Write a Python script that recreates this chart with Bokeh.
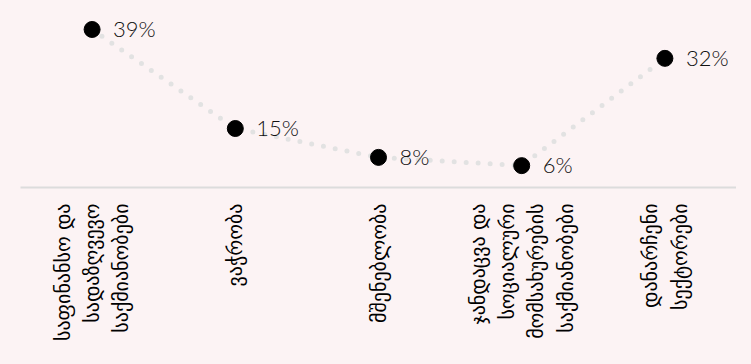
from bokeh.plotting import figure
from bokeh.models import ColumnDataSource, FactorRange, Range1d, LabelSet
from bokeh.embed import file_html
from bokeh.resources import INLINE
from bokeh.core.properties import value
import math

categories = [
    "საფინანსო და\nსადაზღვევო\nსაქმიანობები",
    "ვაჭრობა",
    "მშენებლობა",
    "ჯანდაცვა და\nსოციალური\nმომსახურების\nსაქმიანობები",
    "დანარჩენი\nსექტორები",
]
values = [39, 15, 8, 6, 32]
value_labels = ["39%", "15%", "8%", "6%", "32%"]

BG = "#fcf3f4"

src = ColumnDataSource(dict(x=categories, y=values, lab=value_labels))

p = figure(
    x_range=FactorRange(*categories, range_padding=0),
    y_range=Range1d(0.7, 43.6),
    frame_width=716, frame_height=177,
    min_border_left=20, min_border_right=0, min_border_top=10, min_border_bottom=0,
    output_backend="svg", toolbar_location=None,
    background_fill_color=BG, border_fill_color=BG,
)
p.outline_line_color = None
p.xgrid.visible = False
p.ygrid.visible = False
p.yaxis.visible = False

ax = p.xaxis[0]
ax.axis_line_color = "#dcdcdc"
ax.axis_line_width = 2
ax.major_tick_line_color = None
ax.minor_tick_line_color = None
ax.major_label_orientation = math.pi / 2
ax.major_label_text_font = "DejaVu Sans"
ax.major_label_text_font_size = "20px"
ax.major_label_text_color = "#000000"
ax.major_label_text_line_height = 1.22
ax.major_label_standoff = 10

p.line("x", "y", source=src, line_color="#e2e2e2", line_width=5,
       line_dash="0 12", line_cap="round")
p.scatter("x", "y", source=src, size=16, color="#000000")

labels = LabelSet(x="x", y="y", text="lab", source=src, x_offset=21, y_offset=1,
                  text_baseline="middle", text_font=value("Lato Light, Inter"),
                  text_font_size="22px", text_color="#111111")
p.add_layout(labels)

html = file_html(p, INLINE)
html = html.replace("<head>", "<head><style>html,body{background:%s;}</style>" % BG, 1)
open("out.html", "w").write(html)
